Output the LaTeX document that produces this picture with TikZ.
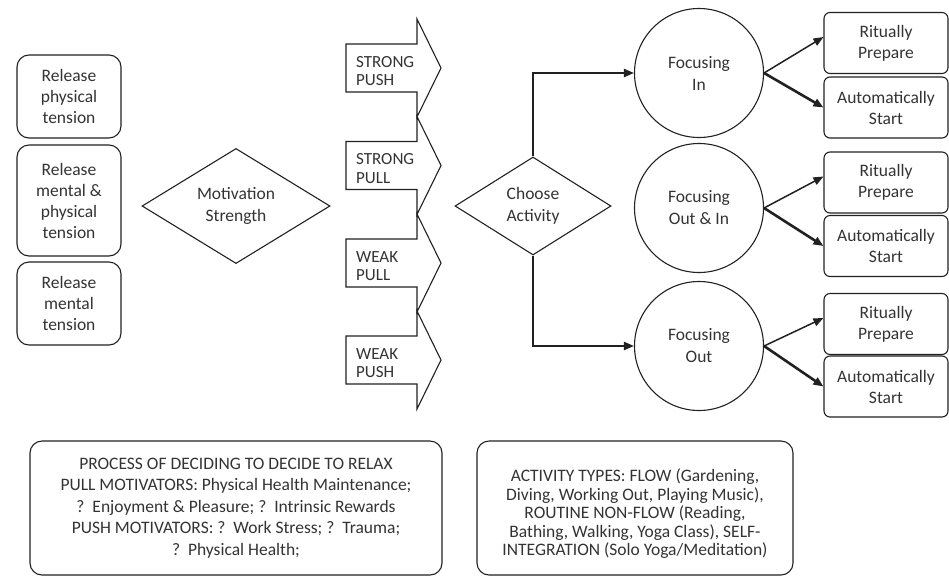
\documentclass[tikz,border=0pt]{standalone}
\usepackage{fontspec}
\setmainfont{Carlito}
\usetikzlibrary{shapes.geometric,arrows.meta}

\definecolor{ink}{rgb}{0.13,0.13,0.13}
\definecolor{txt}{rgb}{0.2,0.2,0.2}

\begin{document}
\begin{tikzpicture}[x=1pt,y=-1pt,
  every node/.style={text=txt, inner sep=0pt},
  outline/.style={draw=ink, line width=1.1pt},
  leftbox/.style={outline, rounded corners=12pt, minimum width=104pt, align=center,
    font=\fontsize{17.5}{21}\selectfont},
  sidebox/.style={outline, rounded corners=6pt, minimum width=124pt, minimum height=61pt,
    align=center, font=\fontsize{17.5}{21}\selectfont},
  decision/.style={outline, diamond, minimum height=98pt, align=center,
    font=\fontsize{17.5}{22}\selectfont},
  focus/.style={outline, circle, minimum size=129pt, align=center,
    font=\fontsize{17.5}{22}\selectfont},
  notebox/.style={outline, rounded corners=12pt, minimum height=134pt},
  arrowtext/.style={anchor=west, align=left, font=\fontsize{17}{18.5}\selectfont},
  flow/.style={draw=ink, line width=2.2pt, -{Triangle[length=10pt,width=8pt]}},
  thinpick/.style={draw=ink, line width=1.5pt, -{Triangle[length=10pt,width=8pt]}},
  thickpick/.style={draw=ink, line width=2.6pt, -{Triangle[length=10pt,width=8pt]}}
]
\useasboundingbox (0,0) rectangle (949,576);

% tension boxes
\node[leftbox, minimum height=83pt] (rp) at (69,96.5) {Release\\physical\\tension};
\node[leftbox, minimum height=111pt] (rmp) at (69,200.5) {Release\\mental \&\\physical\\tension};
\node[leftbox, minimum height=83pt] (rm) at (69,303.5) {Release\\mental\\tension};

% motivation decision
\node[decision, minimum width=188pt] (ms) at (236,206) {Motivation\\Strength};

% push / pull block arrows
\foreach \t/\a/\b/\n in {68/STRONG/PUSH/spush, 165.5/STRONG/PULL/spull,
                         263/WEAK/PULL/wpull, 360/WEAK/PUSH/wpush}{
  \draw[outline, line join=miter]
    (346,\t-24) -- (417,\t-24) -- (417,\t-49) -- (441,\t)
    -- (417,\t+49) -- (417,\t+24) -- (346,\t+24) -- cycle;
  \node[arrowtext] (\n) at (356,\t+3) {\a\\\b};
}

% activity decision
\node[decision, minimum width=156pt] (ca) at (533,206) {Choose\\Activity};

% focusing modes
\node[focus] (fin)  at (699,73)  {Focusing\\In};
\node[focus] (fio)  at (699,208) {Focusing\\Out \& In};
\node[focus] (fout) at (699,346) {Focusing\\Out};

% start-up steps
\node[sidebox] (rp1) at (886,43)    {Ritually\\Prepare};
\node[sidebox] (as1) at (886,107.5) {Automatically\\Start};
\node[sidebox] (rp2) at (886,182.5) {Ritually\\Prepare};
\node[sidebox] (as2) at (886,246)   {Automatically\\Start};
\node[sidebox] (rp3) at (886,324)   {Ritually\\Prepare};
\node[sidebox] (as3) at (886,386.5) {Automatically\\Start};

% connectors
\draw[flow] (ca.north) |- (fin.west);
\draw[flow] (ca.south) |- (fout.west);

\draw[thinpick]  (fin.east) -- ([yshift=6pt]rp1.west);
\draw[thickpick] (fin.east) -- (as1.west);
\draw[thinpick]  (fio.east) -- ([yshift=6pt]rp2.west);
\draw[thickpick] (fio.east) -- (as2.west);
\draw[thinpick]  (fout.east) -- ([yshift=6pt]rp3.west);
\draw[thickpick] (fout.east) -- (as3.west);

% notes
\node[notebox, minimum width=412pt, align=center, font=\fontsize{17.5}{21.5}\selectfont]
  (proc) at (236,508)
  {PROCESS OF DECIDING TO DECIDE TO RELAX\\
   PULL MOTIVATORS: Physical Health Maintenance;\\
   ?\ \ Enjoyment \& Pleasure; ?\ \ Intrinsic Rewards\\
   PUSH MOTIVATORS: ?\ \ Work Stress; ?\ \ Trauma;\\
   ?\ \ Physical Health;};

\node[notebox, minimum width=316pt] (acts) at (635,508) {};
\node[align=center, font=\fontsize{17.5}{18.5}\selectfont] (actstext) at ([yshift=-6pt]acts.center)
  {ACTIVITY TYPES: FLOW (Gardening,\\
   Diving, Working Out, Playing Music),\\
   ROUTINE NON-FLOW (Reading,\\
   Bathing, Walking, Yoga Class), SELF-\\
   INTEGRATION (Solo Yoga/Meditation)};
\end{tikzpicture}
\end{document}
